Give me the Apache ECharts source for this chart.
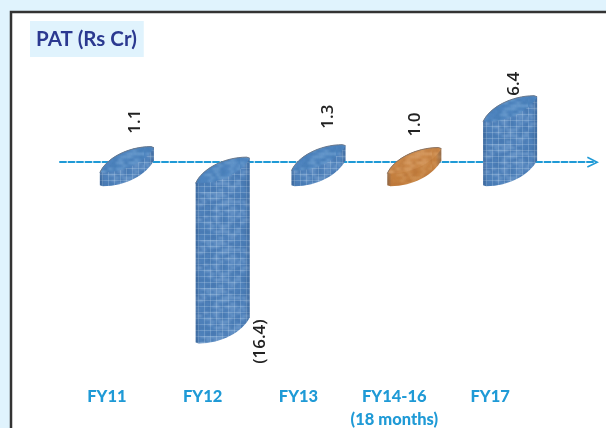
<!DOCTYPE html>
<html>
<head>
<meta charset="utf-8">
<style>html,body{margin:0;padding:0;background:#e0f3fd}#c{width:606px;height:428px}</style>
<script src="https://cdn.jsdelivr.net/npm/echarts@6/dist/echarts.min.js"></script>
</head>
<body>
<div id="c"></div>
<script>
const categories = ['FY11', 'FY12', 'FY13', 'FY14-16\n(18 months)', 'FY17'];
const patValues = [1.1, -16.4, 1.3, 1.0, 6.4];
const highlightCategory = 'FY14-16\n(18 months)';
const titleText = 'PAT (Rs Cr)';

// Hand placement of the rotated value labels, relative to each bar's top-right / bottom-right corner
const labelNudge = [[-18.5, -25], [10, 24], [-17, -28], [-26, -23], [-23, -12]];

function tile(base, light, dark, weave) {
  const s = 48, c = document.createElement('canvas');
  c.width = c.height = s;
  const g = c.getContext('2d');
  g.fillStyle = base; g.fillRect(0, 0, s, s);
  g.filter = 'blur(1px)';
  for (let y = 0; y < s; y += 3) {
    for (let x = 0; x < s; x += 4) {
      const h = Math.abs(Math.sin(x * 12.9898 + y * 78.233) * 43758.5453) % 1;
      g.fillStyle = h > 0.58 ? light : h < 0.3 ? dark : base;
      g.globalAlpha = 0.5;
      g.fillRect(x + (y % 2) * 2, y, 3 + h * 3, 2);
    }
  }
  g.filter = 'blur(0.5px)';
  g.globalAlpha = weave ? 0.22 : 0;
  g.fillStyle = '#d5e6f7';
  for (let x = 0; x < s; x += 6) g.fillRect(x, 0, 1, s);
  for (let y = 0; y < s; y += 6) g.fillRect(0, y, s, 1);
  return c;
}
const tiles = {
  blueBody: tile('#4f82bb', '#8fb4dc', '#3d6ca5', true),
  blueTop: tile('#4f86c0', '#86b2dc', '#3f74ab', false),
  orangeBody: tile('#c58040', '#dca76e', '#ad6a31', false),
  orangeTop: tile('#cc8a4b', '#e3b07e', '#b4713a', false)
};

const BAR_W = 54, RISE = 26, FOOT_DROP = 24, HEAD_DROP = 21, RIM = 3, BAR_SHIFT = 20;

function upper(x0, yL) {
  const x1 = x0 + BAR_W, yR = yL - RISE;
  return `C${x0 + 6} ${yL - 14} ${x0 + 28} ${yR} ${x1 - 3} ${yR} L${x1} ${yR + 1}`;
}
function lower(x0, yL) {
  const x1 = x0 + BAR_W, yR = yL - RISE;
  return `C${x1 - 7} ${yR + 14} ${x0 + 26} ${yL} ${x0 + 3} ${yL} L${x0} ${yL - 1}`;
}

function renderBar(params, api) {
  const i = params.dataIndex, v = api.value(1);
  const zero = api.coord([i, 0]), tip = api.coord([i, v]);
  const cx = zero[0] + BAR_SHIFT, y0 = zero[1], yV = tip[1];
  const x0 = cx - BAR_W / 2, x1 = cx + BAR_W / 2;
  const top = v >= 0 ? yV + FOOT_DROP - RIM : y0 + HEAD_DROP;
  const bot = v >= 0 ? y0 + FOOT_DROP : yV + HEAD_DROP + RIM;
  const orange = categories[i] === highlightCategory;
  const bodyPath = `M${x0} ${top} ${upper(x0, top)} L${x1} ${bot - RISE} ${lower(x0, bot)} Z`;
  const topPath = `M${x0} ${top} ${upper(x0, top)} ${lower(x0, top)} Z`;
  const rim = { fill: 'none', stroke: orange ? '#8a7566' : '#6b7a8e', lineWidth: 1 };
  const n = labelNudge[i];
  const text = v < 0 ? `(${Math.abs(v).toFixed(1)})` : v.toFixed(1);
  return {
    type: 'group',
    children: [
      { type: 'path', shape: { pathData: bodyPath }, style: { fill: { image: orange ? tiles.orangeBody : tiles.blueBody, repeat: 'repeat' } } },
      { type: 'path', shape: { pathData: bodyPath }, style: { fill: {
          type: 'linear', x: 0, y: 0, x2: 1, y2: 0,
          colorStops: [
            { offset: 0, color: 'rgba(30,60,100,0.3)' },
            { offset: 0.08, color: 'rgba(30,60,100,0)' },
            { offset: 0.9, color: 'rgba(30,60,100,0)' },
            { offset: 1, color: 'rgba(30,60,100,0.28)' }
          ] } } },
      { type: 'path', shape: { pathData: topPath }, style: { fill: { image: orange ? tiles.orangeTop : tiles.blueTop, repeat: 'repeat' } } },
      { type: 'path', shape: { pathData: `M${x0} ${top} ${upper(x0, top)}` }, style: rim },
      { type: 'text', x: x1 + n[0], y: (v < 0 ? bot - RISE : top - RISE) + n[1], rotation: Math.PI / 2,
        style: { text, font: '600 17px "Open Sans"', fill: '#222', align: 'center', verticalAlign: 'middle' } }
    ]
  };
}

const chart = echarts.init(document.getElementById('c'), null, { renderer: 'canvas' });
chart.setOption({
  animation: false,
  backgroundColor: '#e0f3fd',
  title: {
    text: titleText, left: 30, top: 21,
    backgroundColor: '#e0f3fd',
    padding: [8, 7, 7, 6],
    textStyle: { color: '#2b3990', fontFamily: 'Lato', fontWeight: 'bold', fontSize: 20.5 }
  },
  graphic: [{
    type: 'rect', z: -1, silent: true,
    shape: { x: 11, y: 12, width: 700, height: 500 },
    style: { fill: '#fff', stroke: '#333', lineWidth: 2.5 }
  }],
  grid: [
    { left: 59, right: 68, top: 70, height: 311, outerBoundsMode: 'none' },
    { left: 60, right: 13, top: 70, height: 311, outerBoundsMode: 'none' }
  ],
  xAxis: [
    {
      type: 'category', gridIndex: 0, data: categories, position: 'bottom',
      axisLine: { show: false, onZero: false }, axisTick: { show: false }, splitLine: { show: false },
      axisLabel: { show: true, interval: 0, margin: 4, lineHeight: 23, color: '#1f9ad6',
        fontFamily: 'Lato', fontWeight: 900, fontSize: 16.5 }
    },
    {
      type: 'value', gridIndex: 1, min: 0, max: 1,
      axisLabel: { show: false }, axisTick: { show: false }, splitLine: { show: false },
      axisLine: { show: true, onZero: true,
        symbol: ['none', 'path://M0 10 L5 0 L10 10 L8.6 10.6 L5 3.2 L1.4 10.6 Z'], symbolSize: [17, 12],
        lineStyle: { color: '#1f9ad6', width: 2, type: [6, 2.5] } }
    }
  ],
  yAxis: [
    { type: 'value', gridIndex: 0, min: -22.8, max: 9.6, show: false },
    { type: 'value', gridIndex: 1, min: -22.8, max: 9.6, show: false }
  ],
  series: [{
    type: 'custom', xAxisIndex: 0, yAxisIndex: 0, clip: false,
    renderItem: renderBar,
    encode: { x: 0, y: 1 },
    data: patValues.map((v, i) => [i, v])
  }]
});
</script>
</body>
</html>
